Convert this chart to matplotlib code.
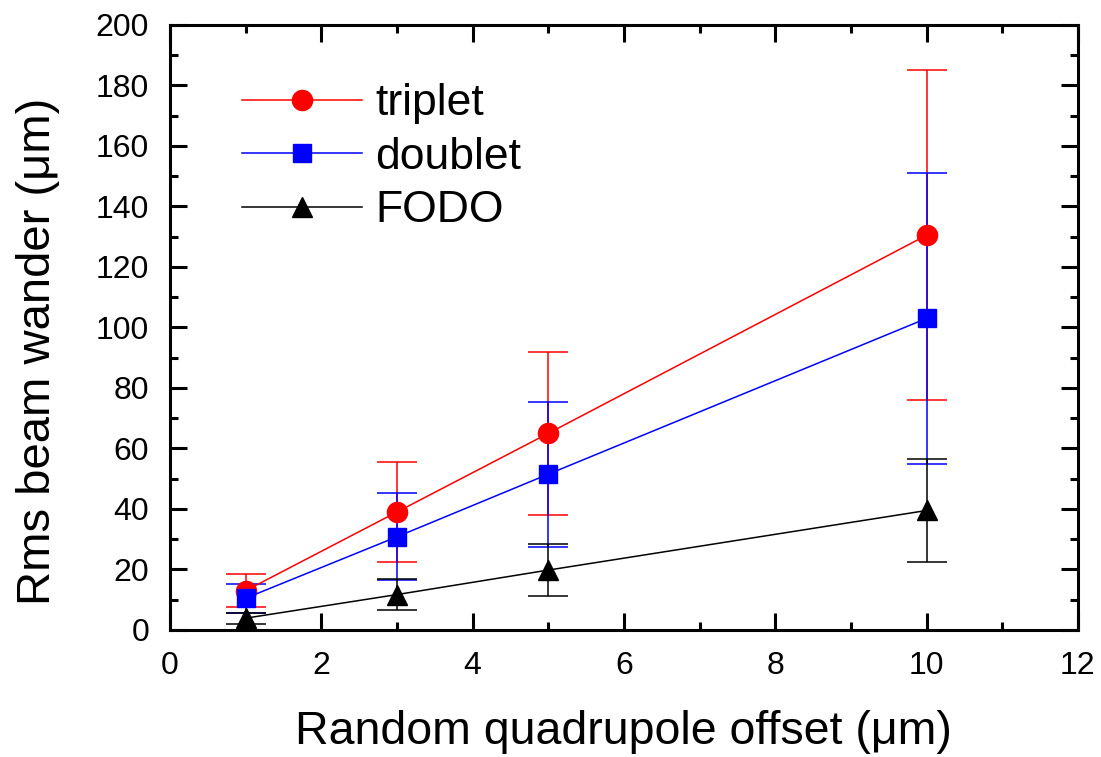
import matplotlib
matplotlib.use("Agg")
import matplotlib.pyplot as plt
from matplotlib.ticker import MultipleLocator

plt.rcParams['font.family'] = ['Liberation Sans', 'DejaVu Sans']

# quadrupole offset (um)
offset = [1, 3, 5, 10]

# rms beam wander and error half-widths (um)
triplet = [13.0, 39.0, 65.0, 130.5]
triplet_err = [5.4, 16.4, 27.0, 54.5]
doublet = [10.5, 30.8, 51.5, 103.0]
doublet_err = [4.8, 14.4, 24.0, 48.0]
fodo = [3.9, 11.7, 19.8, 39.5]
fodo_err = [1.8, 5.1, 8.5, 17.0]

series = [
    ("triplet", triplet, triplet_err, "red", "o", 14.5),
    ("doublet", doublet, doublet_err, "blue", "s", 13.5),
    ("FODO", fodo, fodo_err, "black", "^", 15),
]

fig = plt.figure(figsize=(11.01, 7.57), dpi=100)
ax = fig.add_axes([0.1544, 0.1678, 0.979 - 0.1544, 0.967 - 0.1678])

for name, y, err, col, mk, ms in series:
    ax.errorbar(offset, y, yerr=err, color=col, marker=mk, markersize=ms,
                linewidth=1.1, elinewidth=1.1, capsize=14.5, capthick=1.1,
                label=name)

ax.set_xlim(0, 12)
ax.set_ylim(0, 200)
ax.xaxis.set_major_locator(MultipleLocator(2))
ax.xaxis.set_minor_locator(MultipleLocator(1))
ax.yaxis.set_major_locator(MultipleLocator(20))
ax.yaxis.set_minor_locator(MultipleLocator(10))
ax.tick_params(which='both', direction='in', top=True, right=True,
               width=2.2, labelsize=23, pad=15)
ax.tick_params(which='major', length=12)
ax.tick_params(which='minor', length=6)
for sp in ax.spines.values():
    sp.set_linewidth(2.2)

ax.set_xlabel("Random quadrupole offset (\u03bcm)", fontsize=33.5, labelpad=21)
ax.set_ylabel("Rms beam wander (\u03bcm)", fontsize=34, labelpad=26)
ax.yaxis.label.set_y(0.46)

handles, labels = ax.get_legend_handles_labels()
handles = [h[0] for h in handles]
ax.legend(handles, labels, loc='upper left', bbox_to_anchor=(0.06, 0.933),
          frameon=False, fontsize=32, handlelength=2.7, handletextpad=0.3,
          labelspacing=0.28, borderaxespad=0)

fig.savefig("out.png", dpi=100)
